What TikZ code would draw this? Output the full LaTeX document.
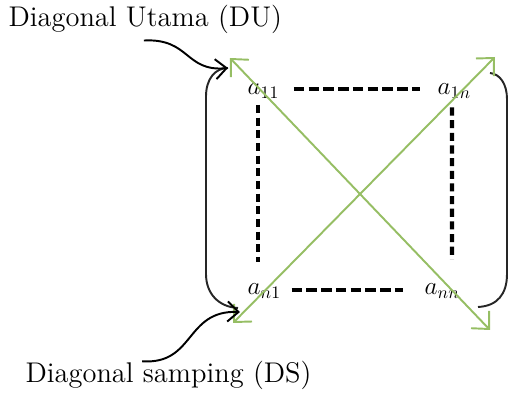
\documentclass[tikz,border=0pt]{standalone}
\usepackage{amssymb}
\usepackage{amsmath}
\usetikzlibrary{arrows.meta}
\definecolor{leafgreen}{RGB}{150,190,100}

\begin{document}
\begin{tikzpicture}[
    diag/.style={leafgreen, line width=1.1pt,
        {Straight Barb[length=2.6mm,width=5mm]}-{Straight Barb[length=2.6mm,width=5mm]}},
    pointer/.style={line width=1.1pt, -{Straight Barb[length=2.2mm,width=4mm]}},
    hdots/.style={line width=2.3pt, dash pattern=on 6pt off 2.4pt},
    vdots/.style={line width=2.5pt, dash pattern=on 4.6pt off 2.6pt},
    bracket/.style={line width=1.1pt, black!85},
    entry/.style={anchor=base west, font=\Large},
    caption/.style={anchor=base west, inner sep=1pt, font=\Large, scale=1.125, transform shape}
]

    \useasboundingbox (0,0) rectangle (10.18,7.88);

    % Draw entries
    \node[entry] (a11) at (4.83,5.98) {$a_{11}$};
    \node[entry] (a1n) at (8.63,5.98) {$a_{1n}$};
    \node[entry] (an1) at (4.83,1.98) {$a_{n1}$};
    \node[entry] (ann) at (8.37,1.98) {$a_{nn}$};

    % Draw dashes between entries
    \draw[hdots, shorten <=0.17cm, shorten >=0.23cm] ([yshift=0.12cm]a11.base east) -- ([yshift=0.12cm]a1n.base west);
    \draw[hdots, shorten <=0.09cm, shorten >=0.31cm] ([yshift=0.1cm]an1.base east) -- ([yshift=0.1cm]ann.base west);
    \draw[vdots, shorten >=0.31cm] ([xshift=0.33cm]a11.south west) -- ([xshift=0.33cm]an1.north west);
    \draw[vdots, shorten <=0.05cm, shorten >=0.37cm] ([xshift=0.41cm]a1n.south west) -- ([xshift=0.67cm]ann.north west);

    % Draw brackets
    \draw[bracket] (4.56,6.52) .. controls (4.3,6.52) and (4.12,6.3) .. (4.12,5.95) -- (4.12,2.4)
        .. controls (4.12,2.0) and (4.38,1.74) .. (4.76,1.72);
    \draw[bracket] (9.8,6.42) .. controls (10.0,6.4) and (10.14,6.2) .. (10.14,5.9) -- (10.14,2.4)
        .. controls (10.14,2.0) and (9.95,1.76) .. (9.56,1.74);

    % Draw diagonals
    \coordinate (duTop) at (4.6,6.72);
    \coordinate (duEnd) at (9.8,1.28);
    \coordinate (dsTop) at (9.9,6.74);
    \coordinate (dsEnd) at (4.66,1.42);
    \draw[diag] (duTop) -- (duEnd);
    \draw[diag] (dsEnd) -- (dsTop);

    % Draw captions and pointers
    \node[caption] (du) at (0.125,7.34) {Diagonal Utama (DU)};
    \node[caption] (ds) at (0.465,0.22) {Diagonal samping (DS)};
    \coordinate (duTip) at (4.56,6.52);
    \coordinate (dsTip) at (4.8,1.64);
    \draw[pointer] ([xshift=-0.03cm,yshift=-0.08cm]du.south) .. controls (3.8,7.12) and (3.7,6.44) .. (duTip);
    \draw[pointer] ([xshift=-0.53cm,yshift=-0.04cm]ds.north) .. controls (3.9,0.58) and (3.7,1.68) .. (dsTip);

\end{tikzpicture}
\end{document}
